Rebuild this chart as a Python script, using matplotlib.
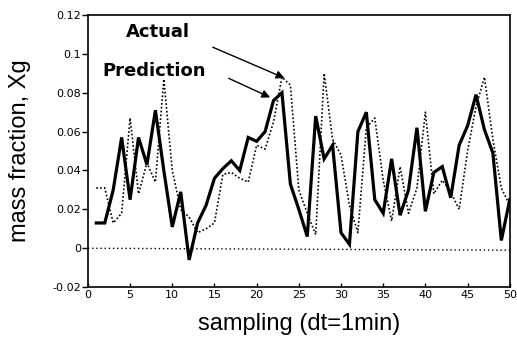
import numpy as np
import matplotlib
matplotlib.use('Agg')
import matplotlib.pyplot as plt

# sampling index (dt = 1 min)
t = np.arange(1, 51)

prediction = [0.013, 0.013, 0.030, 0.057, 0.025, 0.057, 0.043, 0.071, 0.040, 0.011,
              0.029, -0.006, 0.013, 0.022, 0.036, 0.041, 0.045, 0.040, 0.057, 0.055,
              0.060, 0.076, 0.080, 0.033, 0.020, 0.006, 0.068, 0.046, 0.053, 0.008,
              0.002, 0.060, 0.070, 0.025, 0.018, 0.046, 0.017, 0.030, 0.062, 0.019,
              0.039, 0.042, 0.026, 0.053, 0.063, 0.079, 0.061, 0.049, 0.004, 0.025]

actual = [0.031, 0.031, 0.013, 0.018, 0.067, 0.028, 0.044, 0.034, 0.087, 0.040,
          0.020, 0.016, 0.008, 0.010, 0.013, 0.038, 0.039, 0.036, 0.034, 0.053,
          0.051, 0.065, 0.088, 0.084, 0.030, 0.018, 0.007, 0.090, 0.056, 0.048,
          0.022, 0.008, 0.062, 0.067, 0.035, 0.014, 0.042, 0.018, 0.031, 0.070,
          0.028, 0.035, 0.029, 0.020, 0.050, 0.073, 0.088, 0.056, 0.031, 0.022]

zero_x = [0, 50]
zero_y = [0.0, -0.001]

xticks = [0, 5, 10, 15, 20, 25, 30, 35, 40, 45, 50]
yticks = [-0.02, 0, 0.02, 0.04, 0.06, 0.08, 0.1, 0.12]
ytick_labels = ['-0.02', '0', '0.02', '0.04', '0.06', '0.08', '0.1', '0.12']

plt.rcParams['font.family'] = ['Liberation Sans', 'DejaVu Sans']

fig = plt.figure(figsize=(5.17, 3.41), dpi=100)
ax = fig.add_axes([0.170, 0.158, 0.816, 0.798])

ax.plot(t, prediction, color='black', linewidth=2.3, solid_joinstyle='miter')
ax.plot(t, actual, color='black', linewidth=1.2, linestyle=(0, (1, 1.3)))
ax.plot(zero_x, zero_y, color='black', linewidth=1.0, linestyle=(0, (1, 2)))

ax.set_xlim(0, 50)
ax.set_ylim(-0.02, 0.12)
ax.set_xticks(xticks)
ax.set_yticks(yticks)
ax.set_yticklabels(ytick_labels)
ax.tick_params(axis='y', direction='out', length=4, width=1, labelsize=8, pad=1)
ax.tick_params(axis='x', direction='in', length=3, width=1, labelsize=8, pad=2)
for lbl in ax.get_xticklabels() + ax.get_yticklabels():
    lbl.set_fontfamily('DejaVu Sans')
for s in ax.spines.values():
    s.set_linewidth(1.2)

ax.set_xlabel('sampling (dt=1min)', fontsize=17)
ax.set_ylabel('mass fraction, Xg', fontsize=17)
ax.xaxis.set_label_coords(0.5, -0.095)
ax.yaxis.set_label_coords(-0.135, 0.5)

ax.text(8.3, 0.111, 'Actual', fontsize=13, fontweight='bold', family='DejaVu Sans',
        ha='center', va='center')
ax.text(7.8, 0.091, 'Prediction', fontsize=13, fontweight='bold', family='DejaVu Sans',
        ha='center', va='center')
ax.annotate('', xy=(23.6, 0.087), xytext=(14.5, 0.104),
            arrowprops=dict(arrowstyle='-|>', color='black', lw=1.0, mutation_scale=12))
ax.annotate('', xy=(21.9, 0.077), xytext=(16.4, 0.088),
            arrowprops=dict(arrowstyle='-|>', color='black', lw=1.0, mutation_scale=12))

fig.savefig('out.png', dpi=100)
plt.close(fig)
